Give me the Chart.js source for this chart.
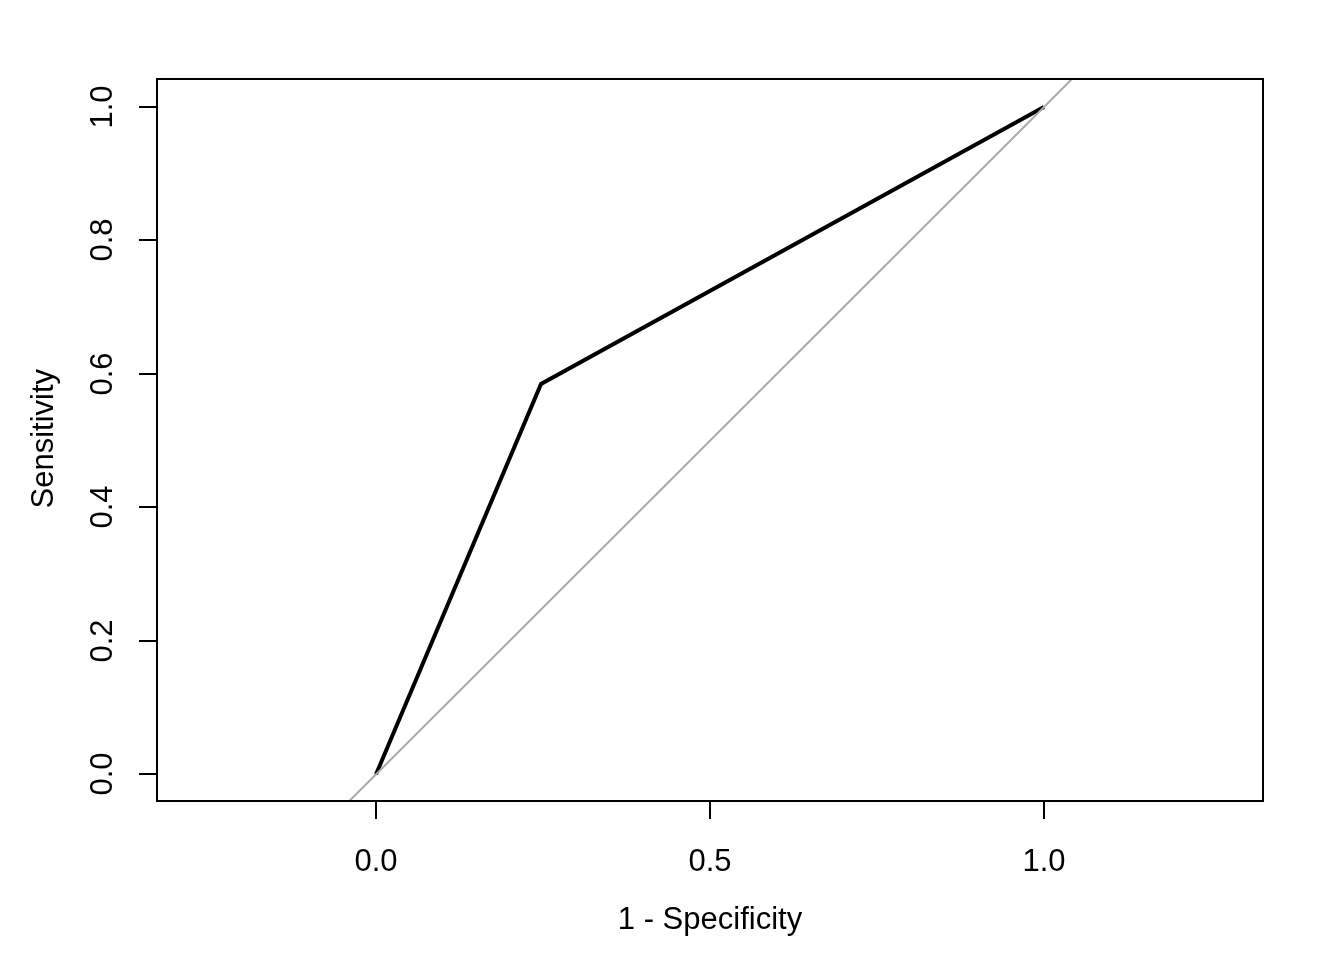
<!DOCTYPE html>
<html>
<head>
<meta charset="utf-8">
<script src="https://cdn.jsdelivr.net/npm/chart.js@4"></script>
<style>
  html, body { margin: 0; padding: 0; background: #fff; }
  #wrap { width: 1344px; height: 960px; }
</style>
</head>
<body>
<div id="wrap"><canvas id="roc" width="1344" height="960"></canvas></div>
<script>
// ROC curve points (1 - specificity, sensitivity)
const fpr = [0, 0.247, 1];
const tpr = [0, 0.585, 1];

// identity line endpoints (clipped by plot area)
const diagX = [-0.33, 1.33];
const diagY = [-0.33, 1.33];

// axis ticks
const xTicks = [0, 0.5, 1];
const yTicks = [0, 0.2, 0.4, 0.6, 0.8, 1];
const xTickLabels = ["0.0", "0.5", "1.0"];
const yTickLabels = ["0.0", "0.2", "0.4", "0.6", "0.8", "1.0"];

const FONT = '31px "Liberation Sans", Arial, sans-serif';

// draws R-style box, ticks and labels
const rAxes = {
  id: "rAxes",
  afterDraw(chart) {
    const { ctx, chartArea: a, scales: { x, y } } = chart;
    ctx.save();
    ctx.strokeStyle = "#000";
    ctx.lineWidth = 2;
    ctx.strokeRect(a.left, a.top, a.right - a.left, a.bottom - a.top);

    ctx.fillStyle = "#000";
    ctx.font = FONT;

    // x ticks
    ctx.textAlign = "center";
    ctx.textBaseline = "middle";
    xTicks.forEach((v, i) => {
      const px = Math.round(x.getPixelForValue(v));
      ctx.beginPath();
      ctx.moveTo(px, a.bottom);
      ctx.lineTo(px, a.bottom + 18);
      ctx.stroke();
      ctx.fillText(xTickLabels[i], px, 862);
    });

    // y ticks (labels rotated like R)
    yTicks.forEach((v, i) => {
      const py = Math.round(y.getPixelForValue(v));
      ctx.beginPath();
      ctx.moveTo(a.left, py);
      ctx.lineTo(a.left - 18, py);
      ctx.stroke();
      ctx.save();
      ctx.translate(103, py);
      ctx.rotate(-Math.PI / 2);
      ctx.fillText(yTickLabels[i], 0, 0);
      ctx.restore();
    });

    // titles
    ctx.fillText("1 - Specificity", (x.getPixelForValue(0.5)), 920);
    ctx.save();
    ctx.translate(44, y.getPixelForValue(0.5) - 2);
    ctx.rotate(-Math.PI / 2);
    ctx.fillText("Sensitivity", 0, 0);
    ctx.restore();
    ctx.restore();
  }
};

new Chart(document.getElementById("roc"), {
  type: "scatter",
  data: {
    datasets: [
      {
        label: "identity",
        data: diagX.map((v, i) => ({ x: v, y: diagY[i] })),
        showLine: true,
        borderColor: "#A9A9A9",
        borderWidth: 2,
        pointRadius: 0,
        clip: 0
      },
      {
        label: "ROC",
        data: fpr.map((v, i) => ({ x: v, y: tpr[i] })),
        showLine: true,
        borderColor: "#000",
        borderWidth: 4,
        pointRadius: 0,
        clip: 0
      }
    ]
  },
  options: {
    responsive: false,
    animation: false,
    layout: { padding: { left: 157, right: 81, top: 79, bottom: 159 } },
    plugins: { legend: { display: false }, tooltip: { enabled: false } },
    scales: {
      x: { type: "linear", display: false, min: -0.328, max: 1.328 },
      y: { type: "linear", display: false, min: -0.04, max: 1.042 }
    }
  },
  plugins: [rAxes]
});
</script>
</body>
</html>
